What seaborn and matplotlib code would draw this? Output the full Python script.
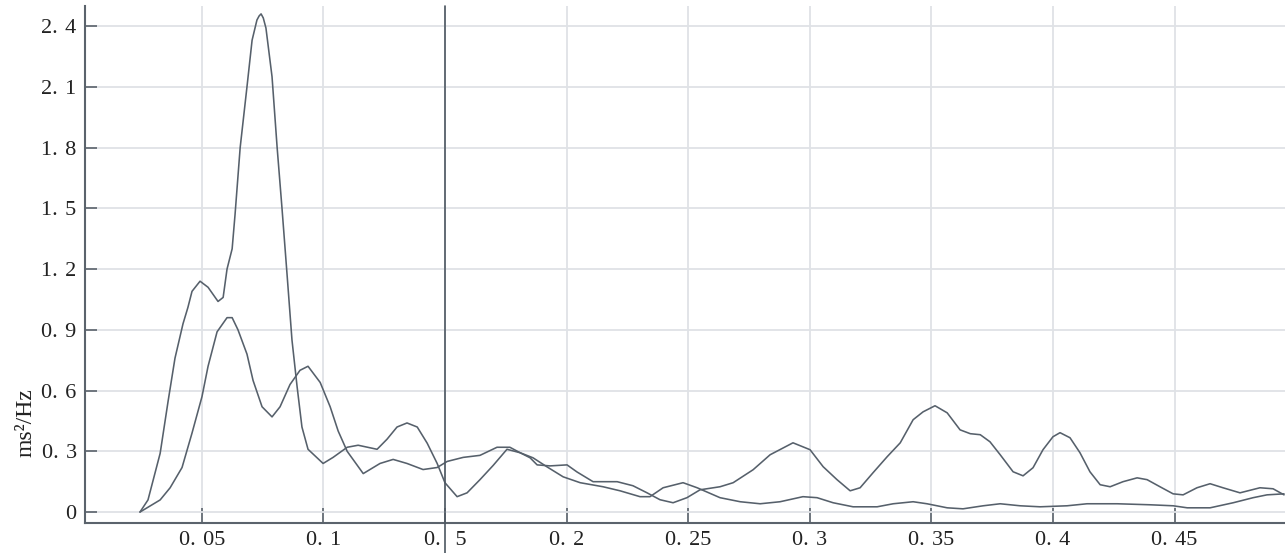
import matplotlib
matplotlib.use("Agg")
import matplotlib.pyplot as plt
import numpy as np
import pandas as pd
import seaborn as sns

# Power spectral density estimates (frequency in Hz, power in ms^2/Hz)
freq_a = [0.0246, 0.0279, 0.0329, 0.0362, 0.0390, 0.0423, 0.0443, 0.0460, 0.0493,
          0.0526, 0.0567, 0.0588, 0.0604, 0.0625, 0.0637, 0.0658, 0.0686, 0.0707,
          0.0727, 0.0736, 0.0744, 0.0753, 0.0764, 0.0789, 0.0810, 0.0830, 0.0851,
          0.0871, 0.0892, 0.0912, 0.0937, 0.0999, 0.1040, 0.1098, 0.1143, 0.1221,
          0.1262, 0.1303, 0.1344, 0.1386, 0.1427, 0.1468, 0.1500, 0.1550, 0.1591,
          0.1644, 0.1698, 0.1755, 0.1809, 0.1850, 0.1879, 0.1932, 0.2002, 0.2043,
          0.2109, 0.2208, 0.2273, 0.2331, 0.2384, 0.2438, 0.2495, 0.2549, 0.2631,
          0.2685, 0.2767, 0.2837, 0.2931, 0.3001, 0.3055, 0.3112, 0.3166, 0.3207,
          0.3260, 0.3318, 0.3372, 0.3425, 0.3466, 0.3515, 0.3565, 0.3618, 0.3660,
          0.3701, 0.3741, 0.3783, 0.3836, 0.3877, 0.3918, 0.3959, 0.4000, 0.4029,
          0.4070, 0.4111, 0.4152, 0.4194, 0.4235, 0.4288, 0.4346, 0.4387, 0.4440,
          0.4494, 0.4535, 0.4592, 0.4646, 0.4699, 0.4769, 0.4851, 0.4905, 0.4950]
psd_a = [0.0, 0.06, 0.29, 0.55, 0.76, 0.93, 1.01, 1.09, 1.14,
         1.11, 1.04, 1.06, 1.20, 1.30, 1.47, 1.80, 2.10, 2.33,
         2.43, 2.45, 2.46, 2.44, 2.39, 2.15, 1.80, 1.50, 1.17,
         0.85, 0.62, 0.42, 0.31, 0.24, 0.27, 0.32, 0.33, 0.31,
         0.36, 0.42, 0.44, 0.42, 0.34, 0.24, 0.145, 0.076, 0.095,
         0.16, 0.23, 0.31, 0.293, 0.268, 0.233, 0.228, 0.233, 0.198,
         0.150, 0.150, 0.130, 0.095, 0.061, 0.046, 0.071, 0.110, 0.125,
         0.145, 0.209, 0.283, 0.342, 0.308, 0.224, 0.160, 0.105, 0.120,
         0.194, 0.273, 0.342, 0.456, 0.495, 0.525, 0.490, 0.406, 0.387,
         0.382, 0.347, 0.283, 0.199, 0.179, 0.219, 0.308, 0.372, 0.392,
         0.367, 0.293, 0.199, 0.135, 0.125, 0.150, 0.169, 0.160, 0.125,
         0.090, 0.085, 0.120, 0.140, 0.120, 0.095, 0.120, 0.115, 0.085]

freq_b = [0.0246, 0.0329, 0.0370, 0.0419, 0.0460, 0.0501, 0.0526, 0.0563, 0.0604,
          0.0625, 0.0649, 0.0686, 0.0711, 0.0748, 0.0789, 0.0822, 0.0863, 0.0904,
          0.0937, 0.0987, 0.1028, 0.1061, 0.1098, 0.1164, 0.1233, 0.1287, 0.1344,
          0.1410, 0.1468, 0.1509, 0.1575, 0.1644, 0.1714, 0.1767, 0.1809, 0.1862,
          0.1920, 0.1986, 0.2056, 0.2150, 0.2220, 0.2302, 0.2343, 0.2397, 0.2479,
          0.2537, 0.2631, 0.2714, 0.2796, 0.2878, 0.2972, 0.3030, 0.3096, 0.3178,
          0.3277, 0.3343, 0.3425, 0.3482, 0.3565, 0.3630, 0.3713, 0.3783, 0.3865,
          0.3947, 0.4058, 0.4140, 0.4264, 0.4399, 0.4494, 0.4552, 0.4646, 0.4741,
          0.4823, 0.4880, 0.4950]
psd_b = [0.0, 0.06, 0.12, 0.22, 0.39, 0.57, 0.72, 0.89, 0.96,
         0.96, 0.90, 0.78, 0.65, 0.52, 0.47, 0.52, 0.63, 0.70,
         0.72, 0.64, 0.52, 0.40, 0.30, 0.19, 0.24, 0.26, 0.24,
         0.21, 0.22, 0.25, 0.27, 0.28, 0.32, 0.32, 0.293, 0.268,
         0.223, 0.174, 0.145, 0.125, 0.105, 0.076, 0.076, 0.120, 0.145,
         0.120, 0.071, 0.051, 0.041, 0.051, 0.076, 0.071, 0.046, 0.026,
         0.026, 0.041, 0.051, 0.041, 0.021, 0.016, 0.031, 0.041, 0.031,
         0.026, 0.031, 0.041, 0.041, 0.036, 0.031, 0.021, 0.021, 0.046,
         0.071, 0.085, 0.090]

SP = "\u2004"  # three-per-em space between the integer part and the decimals
x_ticks = [0.05, 0.10, 0.15, 0.20, 0.25, 0.30, 0.35, 0.40, 0.45]
x_tick_labels = [f"0.{SP}05", f"0.{SP}1", f"0.{SP}{SP}5", f"0.{SP}2", f"0.{SP}25",
                 f"0.{SP}3", f"0.{SP}35", f"0.{SP}4", f"0.{SP}45"]
y_ticks = [0.0, 0.3, 0.6, 0.9, 1.2, 1.5, 1.8, 2.1, 2.4]
y_tick_labels = ["0", f"0.{SP}3", f"0.{SP}6", f"0.{SP}9", f"1.{SP}2", f"1.{SP}5",
                 f"1.{SP}8", f"2.{SP}1", f"2.{SP}4"]
marker_freq = 0.15

sns.set_theme(style="whitegrid")
plt.rcParams["font.family"] = ["Liberation Serif", "DejaVu Serif"]

line_color = "#56606b"
axis_color = "#5b636c"
grid_color = "#dfe2e6"

fig = plt.figure(figsize=(12.85, 5.53), dpi=100)
ax = fig.add_axes([85 / 1285, 30 / 553, 1200 / 1285, 517 / 553])

df_a = pd.DataFrame({"freq": freq_a, "psd": psd_a})
df_b = pd.DataFrame({"freq": freq_b, "psd": psd_b})
sns.lineplot(data=df_a, x="freq", y="psd", ax=ax, color=line_color, lw=1.15,
             estimator=None, sort=False)
sns.lineplot(data=df_b, x="freq", y="psd", ax=ax, color=line_color, lw=1.15,
             estimator=None, sort=False)

ax.set_xlim(0.002, 0.4954)
ax.set_ylim(-0.054, 2.499)

ax.set_xticks(x_ticks)
ax.set_xticklabels(x_tick_labels)
ax.set_yticks(y_ticks)
ax.set_yticklabels(y_tick_labels)

ax.grid(True, color=grid_color, lw=1.3)
ax.set_axisbelow(True)

for side in ["top", "right"]:
    ax.spines[side].set_visible(False)
for side in ["left", "bottom"]:
    ax.spines[side].set_visible(True)
    ax.spines[side].set_color(axis_color)
    ax.spines[side].set_linewidth(1.5)

ax.tick_params(axis="x", direction="in", length=11, width=1.2, color=axis_color,
               labelsize=16, pad=6, labelcolor="#222222", bottom=True)
ax.tick_params(axis="y", direction="in", length=8.5, width=1.2, color=axis_color,
               labelsize=16, pad=6, labelcolor="#222222", left=True)

# marker line at 0.15 Hz running through the axis label
ax.axvline(marker_freq, ymin=-0.06, ymax=1.0, color="#4d5761", lw=1.2,
           clip_on=False, zorder=3)

ax.set_xlabel("")
ax.set_ylabel("ms²/Hz", fontsize=17, color="#222222")
ax.yaxis.set_label_coords(-0.04, 0.195)

fig.savefig("out.png", dpi=100, facecolor="white")
